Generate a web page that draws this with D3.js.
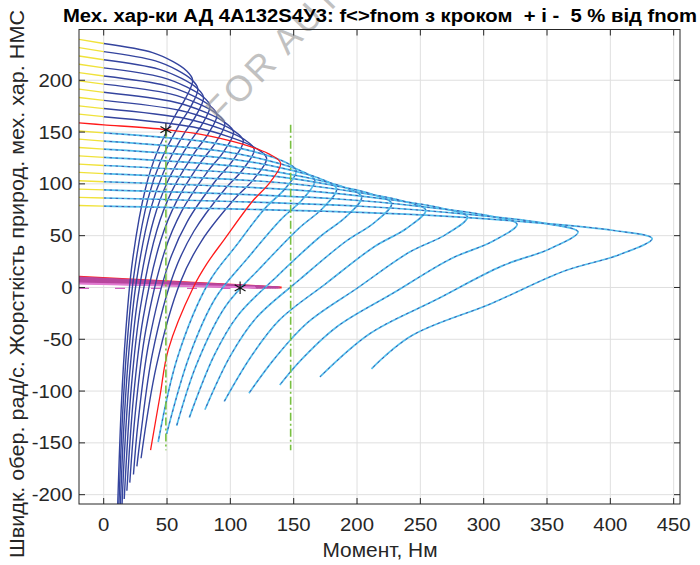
<!DOCTYPE html>
<html>
<head>
<meta charset="utf-8">
<script src="https://cdn.jsdelivr.net/npm/d3@7"></script>
<style>
  body { margin: 0; background: #fff; }
  text { font-family: "Liberation Sans", Arial, sans-serif; fill: #262626; }
</style>
</head>
<body>
<div id="chart"></div>
<script>
// axis ranges and ticks
const xLim = [-19.5, 455];
const yLim = [-209, 249];
const xTicks = [0, 50, 100, 150, 200, 250, 300, 350, 400, 450];
const yTicks = [-200, -150, -100, -50, 0, 50, 100, 150, 200];

// f > fnom (+5 % steps), [M, w] points
const upperCurves = [
  [[0,164.85],[70.7,154.85],[100.3,144.85],[119.6,134.85],[128.6,124.85],[118.7,104.85],[102.9,84.85],[77.2,44.85],[60.4,4.85],[41.7,-75.15],[29.5,-164.85]],
  [[0,172.7],[65.3,162.85],[92.7,153],[110.5,143.15],[118.8,133.3],[109.7,113.6],[95,93.9],[71.3,54.5],[55.8,15.1],[38.5,-63.7],[29.2,-142.5],[26.2,-172.7]],
  [[0,180.55],[60.6,170.8],[86,161.1],[102.5,151.4],[110.2,141.65],[101.7,122.2],[88.2,102.75],[66.1,63.85],[51.8,24.95],[35.7,-52.85],[27.1,-130.65],[23.5,-180.55]],
  [[0,188.4],[56.4,178.8],[80,169.25],[95.3,159.65],[102.5,150.1],[94.6,130.95],[82,111.8],[61.5,73.5],[48.2,35.2],[33.2,-41.4],[25.2,-118],[20.6,-188.4]],
  [[0,196.25],[52.6,186.8],[74.6,177.35],[88.9,167.9],[95.6,158.45],[88.2,139.55],[76.5,120.65],[57.4,82.85],[44.9,45.05],[31,-30.55],[23.5,-106.15],[18.3,-196.25]],
  [[0,204.1],[49.2,194.8],[69.7,185.5],[83.1,176.2],[89.4,166.9],[82.5,148.3],[71.5,129.7],[53.6,92.5],[42,55.3],[29,-19.1],[22,-93.5],[16.2,-204.1]],
  [[0,211.95],[46.1,202.8],[65.4,193.6],[78,184.45],[83.9,175.25],[77.4,156.9],[67.1,138.55],[50.3,101.85],[39.4,65.15],[27.2,-8.25],[20.6,-81.65],[16.6,-155.05],[14.4,-211.95]],
  [[0,219.8],[43.3,210.8],[61.5,201.75],[73.3,192.7],[78.8,183.7],[72.7,165.65],[63,147.6],[47.3,111.5],[37,75.4],[25.5,3.2],[19.4,-69],[15.6,-141.2],[12.9,-219.8]],
  [[0,227.65],[40.9,218.75],[58,209.85],[69.1,200.95],[74.3,192.05],[68.6,174.25],[59.4,156.45],[44.6,120.85],[34.9,85.25],[24.1,14.05],[18.3,-57.15],[14.7,-128.35],[11.5,-227.65]],
  [[0,235.5],[38.6,226.75],[54.8,218],[65.3,209.25],[70.2,200.5],[64.8,183],[56.2,165.5],[42.1,130.5],[33,95.5],[22.7,25.5],[17.3,-44.5],[13.9,-114.5],[10.4,-235.5]]
];

// f < fnom (-5 % steps)
const lowerCurves = [
  [[0,149.15],[83.6,140.1],[118.6,131.1],[141.4,122],[152,113],[142.9,94.9],[127.7,76.85],[104.8,40.7],[82.8,4.55],[58.2,-67.75],[43,-149.15]],
  [[0,141.3],[91.7,131.85],[130,122.4],[155,112.95],[166.7,103.5],[156.7,84.6],[140,65.7],[113.4,27.9],[88.4,-9.9],[67.5,-66.6],[49.7,-141.3]],
  [[0,133.45],[101.1,123.95],[143.4,114.5],[171,105],[183.9,95.5],[172.9,76.5],[154.5,57.55],[124.2,19.6],[96.1,-18.35],[73,-75.3],[57.6,-133.45]],
  [[0,125.6],[112,116.05],[158.8,106.5],[189.3,96.95],[203.6,87.4],[191.4,68.3],[171,49.2],[137,11],[105.8,-27.2],[87.3,-65.4],[67.6,-125.6]],
  [[0,117.75],[125,108.6],[177.3,99.4],[211.4,90.2],[227.3,81],[213.7,62.6],[190.9,44.25],[154.6,7.5],[120.5,-29.25],[100,-66],[80,-117.75]],
  [[0,109.9],[139.9,101.1],[198.4,92.25],[236.5,83.4],[254.3,74.6],[239,56.95],[213.6,39.3],[175.7,4],[138.8,-31.3],[116.4,-66.6],[95.2,-109.9]],
  [[0,102.05],[158,93.55],[224,85.05],[267.1,76.5],[287.2,68],[270,50.98],[241.2,33.95],[200.8,-0.1],[160.7,-34.15],[135.2,-68.2],[114.7,-102.05]],
  [[0,94.2],[179.5,85.9],[254.6,77.6],[303.6,69.3],[326.4,61],[306.8,44.4],[274.2,27.8],[228.6,-5.4],[183.4,-38.6],[154.4,-71.8],[139,-94.2]],
  [[0,86.35],[206,78.15],[292.1,70],[348.3,61.8],[374.5,53.6],[352,37.2],[314.6,20.85],[262.3,-11.9],[210,-44.65],[170.7,-86.35]],
  [[0,78.5],[238.2,70.7],[337.7,62.85],[402.7,55],[433,47.2],[407,31.55],[363.7,15.9],[306.2,-15.4],[243,-46.7],[211.4,-78.5]]
];

// natural characteristic (fnom)
const natCurve = [[-19.5,158.8],[0,157],[48.9,152.4],[76.8,147.75],[109,138.5],[129.9,129.25],[139.7,120],[131.3,101.5],[117.3,83],[95,46],[81.5,23],[70.7,0],[51,-60],[44.4,-105],[37,-157]];

// generator part (M < 0): speed at left edge
const yellowUp = [167.35,175.35,183.35,191.4,199.4,207.4,215.45,223.45,231.5,239.5];
const yellowLow = [151.05,143.1,135.1,127.1,119.05,111.0,103.0,95.0,87.05,79.1];

// stiffness band near w = 0
const fanLeft = [10.3, 9.7, 9.1, 8.5, 7.9, 7.3, 6.7, 6.1, 5.5, 4.9, 4.3, 3.8];
const fanEnd = [140.5, 139, 137.5, 136, 134, 132, 130, 128, 126, 124, 122, 120];
const pinkDash = [[-19.5,-0.8],[100,-0.8]];

// vertical dash-dot lines and marked points
const greenLines = [[[49.1,152.4],[49.1,-157]], [[147.6,157],[147.6,-157]]];
const starPoints = [[49.1,152.4],[107.7,-0.3]];

const titleText = "Мех. хар-ки АД 4А132S4У3: f<>fnom з кроком  + і -  5 % від fnom";
const xLabel = "Момент, Нм";
const yLabel = "Швидк. обер. рад/с. Жорсткість природ. мех. хар. НМС";
const watermark = "FOR AUTHOR";

const W = 700, H = 565;
const plot = { left: 79, right: 680, top: 29.5, bottom: 504 };

const svg = d3.select("#chart").append("svg")
  .attr("width", W).attr("height", H);

const x = d3.scaleLinear().domain(xLim).range([plot.left, plot.right]);
const y = d3.scaleLinear().domain(yLim).range([plot.bottom, plot.top]);

svg.append("clipPath").attr("id", "clip")
  .append("rect")
  .attr("x", plot.left).attr("y", plot.top)
  .attr("width", plot.right - plot.left).attr("height", plot.bottom - plot.top);

// grid
const grid = svg.append("g").attr("stroke", "#dfdfdf").attr("stroke-width", 1);
grid.selectAll("line.gx").data(xTicks).enter().append("line")
  .attr("x1", d => x(d)).attr("x2", d => x(d))
  .attr("y1", plot.top).attr("y2", plot.bottom);
grid.selectAll("line.gy").data(yTicks).enter().append("line")
  .attr("x1", plot.left).attr("x2", plot.right)
  .attr("y1", d => y(d)).attr("y2", d => y(d));

const g = svg.append("g").attr("clip-path", "url(#clip)");
const line = d3.line().x(d => x(d[0])).y(d => y(d[1]));
const curve = d3.line().x(d => x(d[0])).y(d => y(d[1]))
  .curve(d3.curveCatmullRom.alpha(0.5));

// stiffness fan
g.append("path").datum(pinkDash).attr("d", line)
  .attr("fill", "none").attr("stroke", "#d060c0").attr("stroke-width", 1.2)
  .attr("stroke-dasharray", "10,26");
fanLeft.forEach((v, i) => {
  g.append("path").datum([[xLim[0], v], [fanEnd[i], 0]]).attr("d", line)
    .attr("fill", "none")
    .attr("stroke", i === 0 ? "#ff2020" : (i === fanLeft.length - 1 ? "#e07ad0" : "#b8479e"))
    .attr("stroke-width", 2);
});

// upper curves (dark blue)
upperCurves.forEach(c => {
  g.append("path").datum(c).attr("d", curve)
    .attr("fill", "none").attr("stroke", "#34449e").attr("stroke-width", 1.4);
});

// lower curves: light blue with dark dashes
lowerCurves.forEach(c => {
  g.append("path").datum(c).attr("d", curve)
    .attr("fill", "none").attr("stroke", "#52bfec").attr("stroke-width", 1.7);
  g.append("path").datum(c).attr("d", curve)
    .attr("fill", "none").attr("stroke", "#3a4aa4").attr("stroke-width", 0.9)
    .attr("stroke-dasharray", "2.5,3.5");
});

// generator part in yellow
upperCurves.forEach((c, i) => {
  g.append("path").datum([[xLim[0], yellowUp[i]], c[0]]).attr("d", line)
    .attr("fill", "none").attr("stroke", "#f0e23a").attr("stroke-width", 1.3);
});
lowerCurves.forEach((c, i) => {
  g.append("path").datum([[xLim[0], yellowLow[i]], c[0]]).attr("d", line)
    .attr("fill", "none").attr("stroke", "#f0e23a").attr("stroke-width", 1.3);
});

// natural characteristic
g.append("path").datum(natCurve).attr("d", curve)
  .attr("fill", "none").attr("stroke", "#ff1a1a").attr("stroke-width", 1.3);

// green dash-dot lines
greenLines.forEach(l => {
  g.append("path").datum(l).attr("d", line)
    .attr("fill", "none").attr("stroke", "#78c040").attr("stroke-width", 1.6)
    .attr("stroke-dasharray", "8,3,2,3");
});

// markers
g.selectAll("path.star").data(starPoints).enter().append("path")
  .attr("transform", d => `translate(${x(d[0])},${y(d[1])})`)
  .attr("d", d3.symbol().type(d3.symbolAsterisk).size(110))
  .attr("fill", "none").attr("stroke", "#111").attr("stroke-width", 1.1);

// watermark
svg.append("text")
  .attr("transform", "translate(221,125) rotate(-46)")
  .attr("font-size", 36).attr("letter-spacing", 3)
  .style("fill", "#999").style("opacity", 0.6)
  .text(watermark);

// box and ticks
const axisColor = "#262626";
svg.append("rect")
  .attr("x", plot.left).attr("y", plot.top)
  .attr("width", plot.right - plot.left).attr("height", plot.bottom - plot.top)
  .attr("fill", "none").attr("stroke", axisColor).attr("stroke-width", 1);
const ticks = svg.append("g").attr("stroke", axisColor).attr("stroke-width", 1);
xTicks.forEach(t => {
  ticks.append("line").attr("x1", x(t)).attr("x2", x(t)).attr("y1", plot.bottom).attr("y2", plot.bottom - 6);
  ticks.append("line").attr("x1", x(t)).attr("x2", x(t)).attr("y1", plot.top).attr("y2", plot.top + 6);
});
yTicks.forEach(t => {
  ticks.append("line").attr("x1", plot.left).attr("x2", plot.left + 6).attr("y1", y(t)).attr("y2", y(t));
  ticks.append("line").attr("x1", plot.right).attr("x2", plot.right - 6).attr("y1", y(t)).attr("y2", y(t));
});

// tick labels (the picture is slightly stretched horizontally)
const sx = 1.1;
svg.selectAll("text.xt").data(xTicks).enter().append("text")
  .attr("transform", d => `translate(${x(d)},530.5) scale(${sx},1)`)
  .attr("text-anchor", "middle").attr("font-size", 18.5)
  .text(d => d);
svg.selectAll("text.yt").data(yTicks).enter().append("text")
  .attr("transform", d => `translate(72.5,${y(d) + 6.6}) scale(${sx},1)`)
  .attr("text-anchor", "end").attr("font-size", 18.5)
  .text(d => d);

// labels
svg.append("text")
  .attr("x", 380).attr("y", 557)
  .attr("text-anchor", "middle").attr("font-size", 20)
  .attr("textLength", 115).attr("lengthAdjust", "spacingAndGlyphs")
  .text(xLabel);

svg.append("text")
  .attr("transform", "translate(23.5,284) rotate(-90)")
  .attr("text-anchor", "middle").attr("font-size", 20)
  .attr("textLength", 548).attr("lengthAdjust", "spacingAndGlyphs")
  .text(yLabel);

svg.append("text")
  .attr("x", 380).attr("y", 22)
  .attr("text-anchor", "middle").attr("font-size", 18).attr("font-weight", "bold")
  .attr("textLength", 634).attr("lengthAdjust", "spacingAndGlyphs")
  .style("white-space", "pre").style("fill", "#000")
  .text(titleText);
</script>
</body>
</html>
